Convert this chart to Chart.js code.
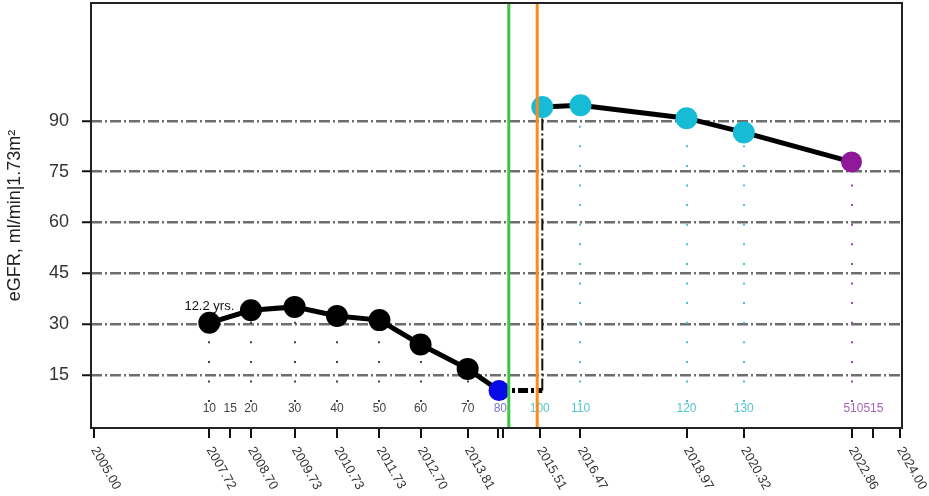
<!DOCTYPE html>
<html>
<head>
<meta charset="utf-8">
<script src="https://cdn.jsdelivr.net/npm/chart.js@4.4.1/dist/chart.umd.min.js"></script>
<style>
	html, body { margin: 0; padding: 0; background: #fff; }
	#wrap { width: 929px; height: 496px; }
</style>
</head>
<body>
<div id="wrap"><canvas id="egfr"></canvas></div>
<script>
// eGFR before / after transplant
const preYears = [2007.72, 2008.70, 2009.73, 2010.73, 2011.73, 2012.70, 2013.81, 2014.55];
const preEgfr = [30.4, 34.1, 35.1, 32.4, 31.2, 24.0, 16.8, 10.4];
const preColors = ['#000', '#000', '#000', '#000', '#000', '#000', '#000', '#0a0ae8'];
const postYears = [2015.57, 2016.47, 2018.97, 2020.32, 2022.86];
const postEgfr = [94.1, 94.6, 90.8, 86.6, 77.9];
const postColors = ['#16bcd6', '#16bcd6', '#16bcd6', '#16bcd6', '#8e1a9a'];

const yTicks = [15, 30, 45, 60, 75, 90];
const xTicks = [2005.00, 2007.72, 2008.21, 2008.70, 2009.73, 2010.73, 2011.73, 2012.70, 2013.81, 2014.52, 2014.64, 2015.51, 2016.47, 2018.97, 2020.32, 2022.86, 2023.37, 2024.00];
const xTickLabels = ['2005.00', '2007.72', '', '2008.70', '2009.73', '2010.73', '2011.73', '2012.70', '2013.81', '', '', '2015.51', '2016.47', '2018.97', '2020.32', '2022.86', '', '2024.00'];

const visitLabels = ['10', '15', '20', '30', '40', '50', '60', '70', '80', '100', '110', '120', '130', '510515'];
const visitYears = [2007.72, 2008.21, 2008.70, 2009.73, 2010.73, 2011.73, 2012.70, 2013.81, 2014.58, 2015.51, 2016.47, 2018.97, 2020.32, 2023.14];
const visitColors = ['#444', '#444', '#444', '#444', '#444', '#444', '#444', '#444', '#7474d4', '#52c6d4', '#52c6d4', '#52c6d4', '#52c6d4', '#a865b4'];

const eventYears = [2014.78, 2015.45];
const eventColors = ['#3cc83c', '#ff8a1c'];
const note = { text: '12.2 yrs.', x: 2007.72, y: 35.3 };

const pts = (xs, ys) => xs.map((x, i) => ({ x, y: ys[i] }));
const last = (a) => a[a.length - 1];

// dotted drop lines under each visit
const drops = [];
preYears.slice(0, 7).forEach((x, i) => drops.push({ x, y: preEgfr[i], color: '#444' }));
postYears.slice(1).forEach((x, i) => drops.push({ x, y: postEgfr[i + 1], color: postColors[i + 1] === '#16bcd6' ? '#45c4d2' : '#9a4aa8' }));

const overlay = {
	id: 'overlay',
	beforeDatasetsDraw(chart) {
		const { ctx, scales: { x, y } } = chart;
		ctx.save();
		ctx.lineWidth = 2;
		ctx.setLineDash([2, 17.6]);
		drops.forEach((d) => {
			const px = Math.round(x.getPixelForValue(d.x));
			ctx.strokeStyle = d.color;
			ctx.beginPath();
			ctx.moveTo(px, y.getPixelForValue(7));
			ctx.lineTo(px, y.getPixelForValue(d.y));
			ctx.stroke();
		});
		ctx.setLineDash([]);
		ctx.font = '12px "Liberation Sans", Arial, sans-serif';
		ctx.textAlign = 'center';
		ctx.textBaseline = 'middle';
		visitLabels.forEach((t, i) => {
			ctx.fillStyle = visitColors[i];
			ctx.fillText(t, x.getPixelForValue(visitYears[i]), y.getPixelForValue(5));
		});
		ctx.font = '13px "Liberation Sans", Arial, sans-serif';
		ctx.fillStyle = '#111';
		ctx.fillText(note.text, x.getPixelForValue(note.x), y.getPixelForValue(note.y));
		ctx.restore();
	},
	afterDatasetsDraw(chart) {
		const { ctx, chartArea: a, scales: { x } } = chart;
		ctx.save();
		ctx.lineWidth = 3;
		eventYears.forEach((v, i) => {
			const px = x.getPixelForValue(v);
			ctx.strokeStyle = eventColors[i];
			ctx.beginPath();
			ctx.moveTo(px, a.top);
			ctx.lineTo(px, a.bottom);
			ctx.stroke();
		});
		ctx.restore();
	},
	afterDraw(chart) {
		const { ctx, chartArea: a, scales: { x } } = chart;
		ctx.save();
		ctx.strokeStyle = '#222';
		ctx.lineWidth = 2;
		ctx.strokeRect(a.left, a.top, a.right - a.left, a.bottom - a.top);
		ctx.fillStyle = '#333';
		ctx.font = '13px "Liberation Sans", Arial, sans-serif';
		ctx.textAlign = 'left';
		ctx.textBaseline = 'middle';
		xTicks.forEach((v, i) => {
			if (!xTickLabels[i]) return;
			ctx.save();
			ctx.translate(x.getPixelForValue(v), a.bottom + 20);
			ctx.rotate(Math.PI / 3);
			ctx.fillText(xTickLabels[i], 0, 0);
			ctx.restore();
		});
		ctx.restore();
	}
};

Chart.defaults.font.family = '"Liberation Sans", Arial, sans-serif';
Chart.defaults.color = '#333';

new Chart(document.getElementById('egfr'), {
	type: 'line',
	data: {
		datasets: [
			{
				data: pts(preYears, preEgfr), borderColor: '#000', borderWidth: 5,
				pointBackgroundColor: preColors, pointBorderWidth: 0,
				pointRadius: preColors.map(c => c === '#000' ? 11 : 10.5), order: 1
			},
			{
				data: pts(postYears, postEgfr), borderColor: '#000', borderWidth: 5,
				pointBackgroundColor: postColors, pointBorderWidth: 0,
				pointRadius: postColors.map(c => c === '#16bcd6' ? 11 : 10.5), order: 1
			},
			{
				data: [{ x: last(preYears), y: last(preEgfr) }, { x: postYears[0], y: last(preEgfr) }],
				borderColor: '#000', borderWidth: 5, borderDash: [10, 3, 3, 3], pointRadius: 0, order: 3
			},
			{
				data: [{ x: postYears[0], y: last(preEgfr) }, { x: postYears[0], y: postEgfr[0] }],
				borderColor: '#111', borderWidth: 2, borderDash: [12, 3, 2, 3], pointRadius: 0, order: 3
			}
		]
	},
	options: {
		responsive: true,
		maintainAspectRatio: false,
		animation: false,
		layout: { autoPadding: false, padding: { top: 3, right: 27, left: 0, bottom: 0 } },
		plugins: { legend: { display: false }, tooltip: { enabled: false } },
		scales: {
			x: {
				type: 'linear', min: 2004.93, max: 2024.05,
				afterBuildTicks: (s) => { s.ticks = xTicks.map(v => ({ value: v })); },
				afterFit: (s) => { s.height = 68; s.paddingLeft = 0; s.paddingRight = 0; },
				ticks: { display: false },
				grid: { drawOnChartArea: false, color: '#111', lineWidth: 2, tickLength: 10 },
				border: { display: false }
			},
			y: {
				min: -0.65, max: 124.8,
				afterBuildTicks: (s) => { s.ticks = yTicks.map(v => ({ value: v })); },
				afterFit: (s) => { s.width = 91; s.paddingTop = 0; s.paddingBottom = 0; },
				ticks: { font: { size: 18 }, color: '#333', padding: 13, autoSkip: false },
				grid: { color: '#6e6e6e', lineWidth: 2.5, tickColor: '#111', tickWidth: 2, tickLength: 9 },
				border: { display: false, dash: [11, 3, 2, 3] },
				title: { display: true, text: 'eGFR, ml/min|1.73m²', font: { size: 18 }, color: '#222', padding: { top: 4, bottom: 0 } }
			}
		}
	},
	plugins: [overlay]
});
</script>
</body>
</html>
